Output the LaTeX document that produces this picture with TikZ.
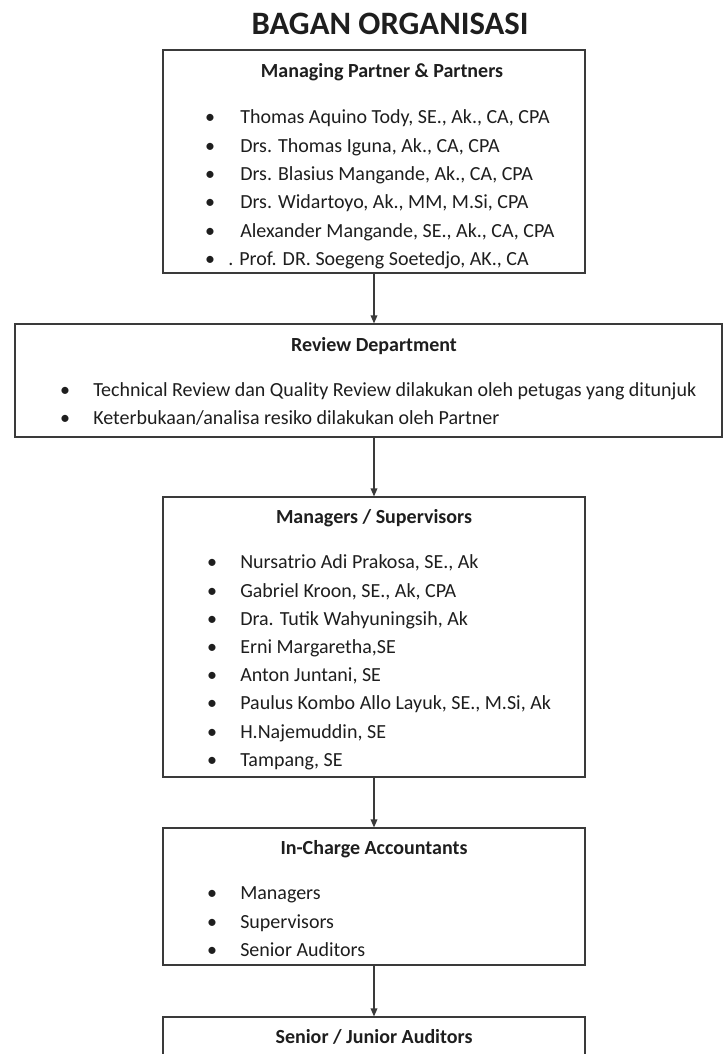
\documentclass[tikz,border=0pt]{standalone}
\usepackage{fontspec}
\setmainfont{Carlito}
\usetikzlibrary{arrows.meta}
\definecolor{ink}{HTML}{1E1E1E}
\definecolor{linegray}{HTML}{3A3A3A}
\begin{document}
\begin{tikzpicture}[x=0.75pt,y=-0.75pt,
  box/.style={draw=linegray, line width=0.9pt, rectangle, inner sep=0pt, fill=white},
  ttl/.style={font=\fontsize{24.5}{28}\selectfont\bfseries, text=ink, inner sep=0pt, anchor=base},
  hd/.style={font=\fontsize{15}{17}\selectfont\bfseries, text=ink, inner sep=0pt, anchor=base},
  itm/.style={font=\fontsize{15}{17}\selectfont, text=ink, inner sep=0pt, anchor=base west},
  bul/.style={font=\fontsize{15}{17}\selectfont, text=ink, inner sep=0pt, anchor=base},
  conn/.style={draw=linegray, line width=0.9pt, -{Triangle[length=6pt,width=5pt]}}
]
\useasboundingbox (0,0) rectangle (726,1054);
\fill[white] (0,0) rectangle (726,1054);
\begin{scope}
\clip (0,0) rectangle (726,1054);

% title
\node[ttl] (title) at (390,34) {BAGAN ORGANISASI};

% boxes
\node[box, minimum width=316.5pt, minimum height=167.25pt] (b1) at (374,161.5) {};
\node[box, minimum width=530.25pt, minimum height=84.75pt] (b2) at (368.5,380.5) {};
\node[box, minimum width=316.5pt, minimum height=210pt] (b3) at (374,637) {};
\node[box, minimum width=316.5pt, minimum height=102.75pt] (b4) at (374,896.5) {};
\node[box, minimum width=316.5pt, minimum height=62.25pt] (b5) at (374,1058.5) {};

% connectors
\draw[conn] (b1.south) -- (b1.south |- b2.north);
\draw[conn] (b3.north |- b2.south) -- (b3.north);
\draw[conn] (b3.south) -- (b4.north);
\draw[conn] (b4.south) -- (b5.north);

% box 1
\node[hd] (h1) at (382,77) {Managing Partner \& Partners};
\foreach \i/\yy/\t in {1/117/{Thomas Aquino Tody, SE., Ak., CA, CPA},
                       2/146/{Drs. Thomas Iguna, Ak., CA, CPA},
                       3/174/{Drs. Blasius Mangande, Ak., CA, CPA},
                       4/202/{Drs. Widartoyo, Ak., MM, M.Si, CPA},
                       5/231/{Alexander Mangande, SE., Ak., CA, CPA}} {
  \node[bul] (b1d\i) at (210,\yy+6) {•};
  \node[itm] (b1t\i) at (240,\yy+6) {\t};
}
\node[bul] (b1d6) at (210,265) {•};
\node[itm] (b1t6) at (228,265) {. Prof. DR. Soegeng Soetedjo, AK., CA};

% box 2
\node[hd] (h2) at (374,351) {Review Department};
\node[bul] (b2d1) at (65,396) {•};
\node[itm] (b2t1) at (93,396) {Technical Review dan Quality Review dilakukan oleh petugas yang ditunjuk};
\node[bul] (b2d2) at (65,424) {•};
\node[itm] (b2t2) at (93,424) {Keterbukaan/analisa resiko dilakukan oleh Partner};

% box 3
\node[hd] (h3) at (374,523) {Managers / Supervisors};
\foreach \i/\yy/\t in {1/562/{Nursatrio Adi Prakosa, SE., Ak},
                       2/591/{Gabriel Kroon, SE., Ak, CPA},
                       3/619/{Dra. Tutik Wahyuningsih, Ak},
                       4/647/{Erni Margaretha,SE},
                       5/675/{Anton Juntani, SE},
                       6/703/{Paulus Kombo Allo Layuk, SE., M.Si, Ak},
                       7/732/{H.Najemuddin, SE},
                       8/760/{Tampang, SE}} {
  \node[bul] (b3d\i) at (212,\yy+6) {•};
  \node[itm] (b3t\i) at (240,\yy+6) {\t};
}

% box 4
\node[hd] (h4) at (374,854) {In-Charge Accountants};
\foreach \i/\yy/\t in {1/893/{Managers},
                       2/922/{Supervisors},
                       3/950/{Senior Auditors}} {
  \node[bul] (b4d\i) at (212,\yy+6) {•};
  \node[itm] (b4t\i) at (240,\yy+6) {\t};
}

% box 5
\node[hd] (h5) at (374,1043) {Senior / Junior Auditors};
\end{scope}
\end{tikzpicture}
\end{document}
